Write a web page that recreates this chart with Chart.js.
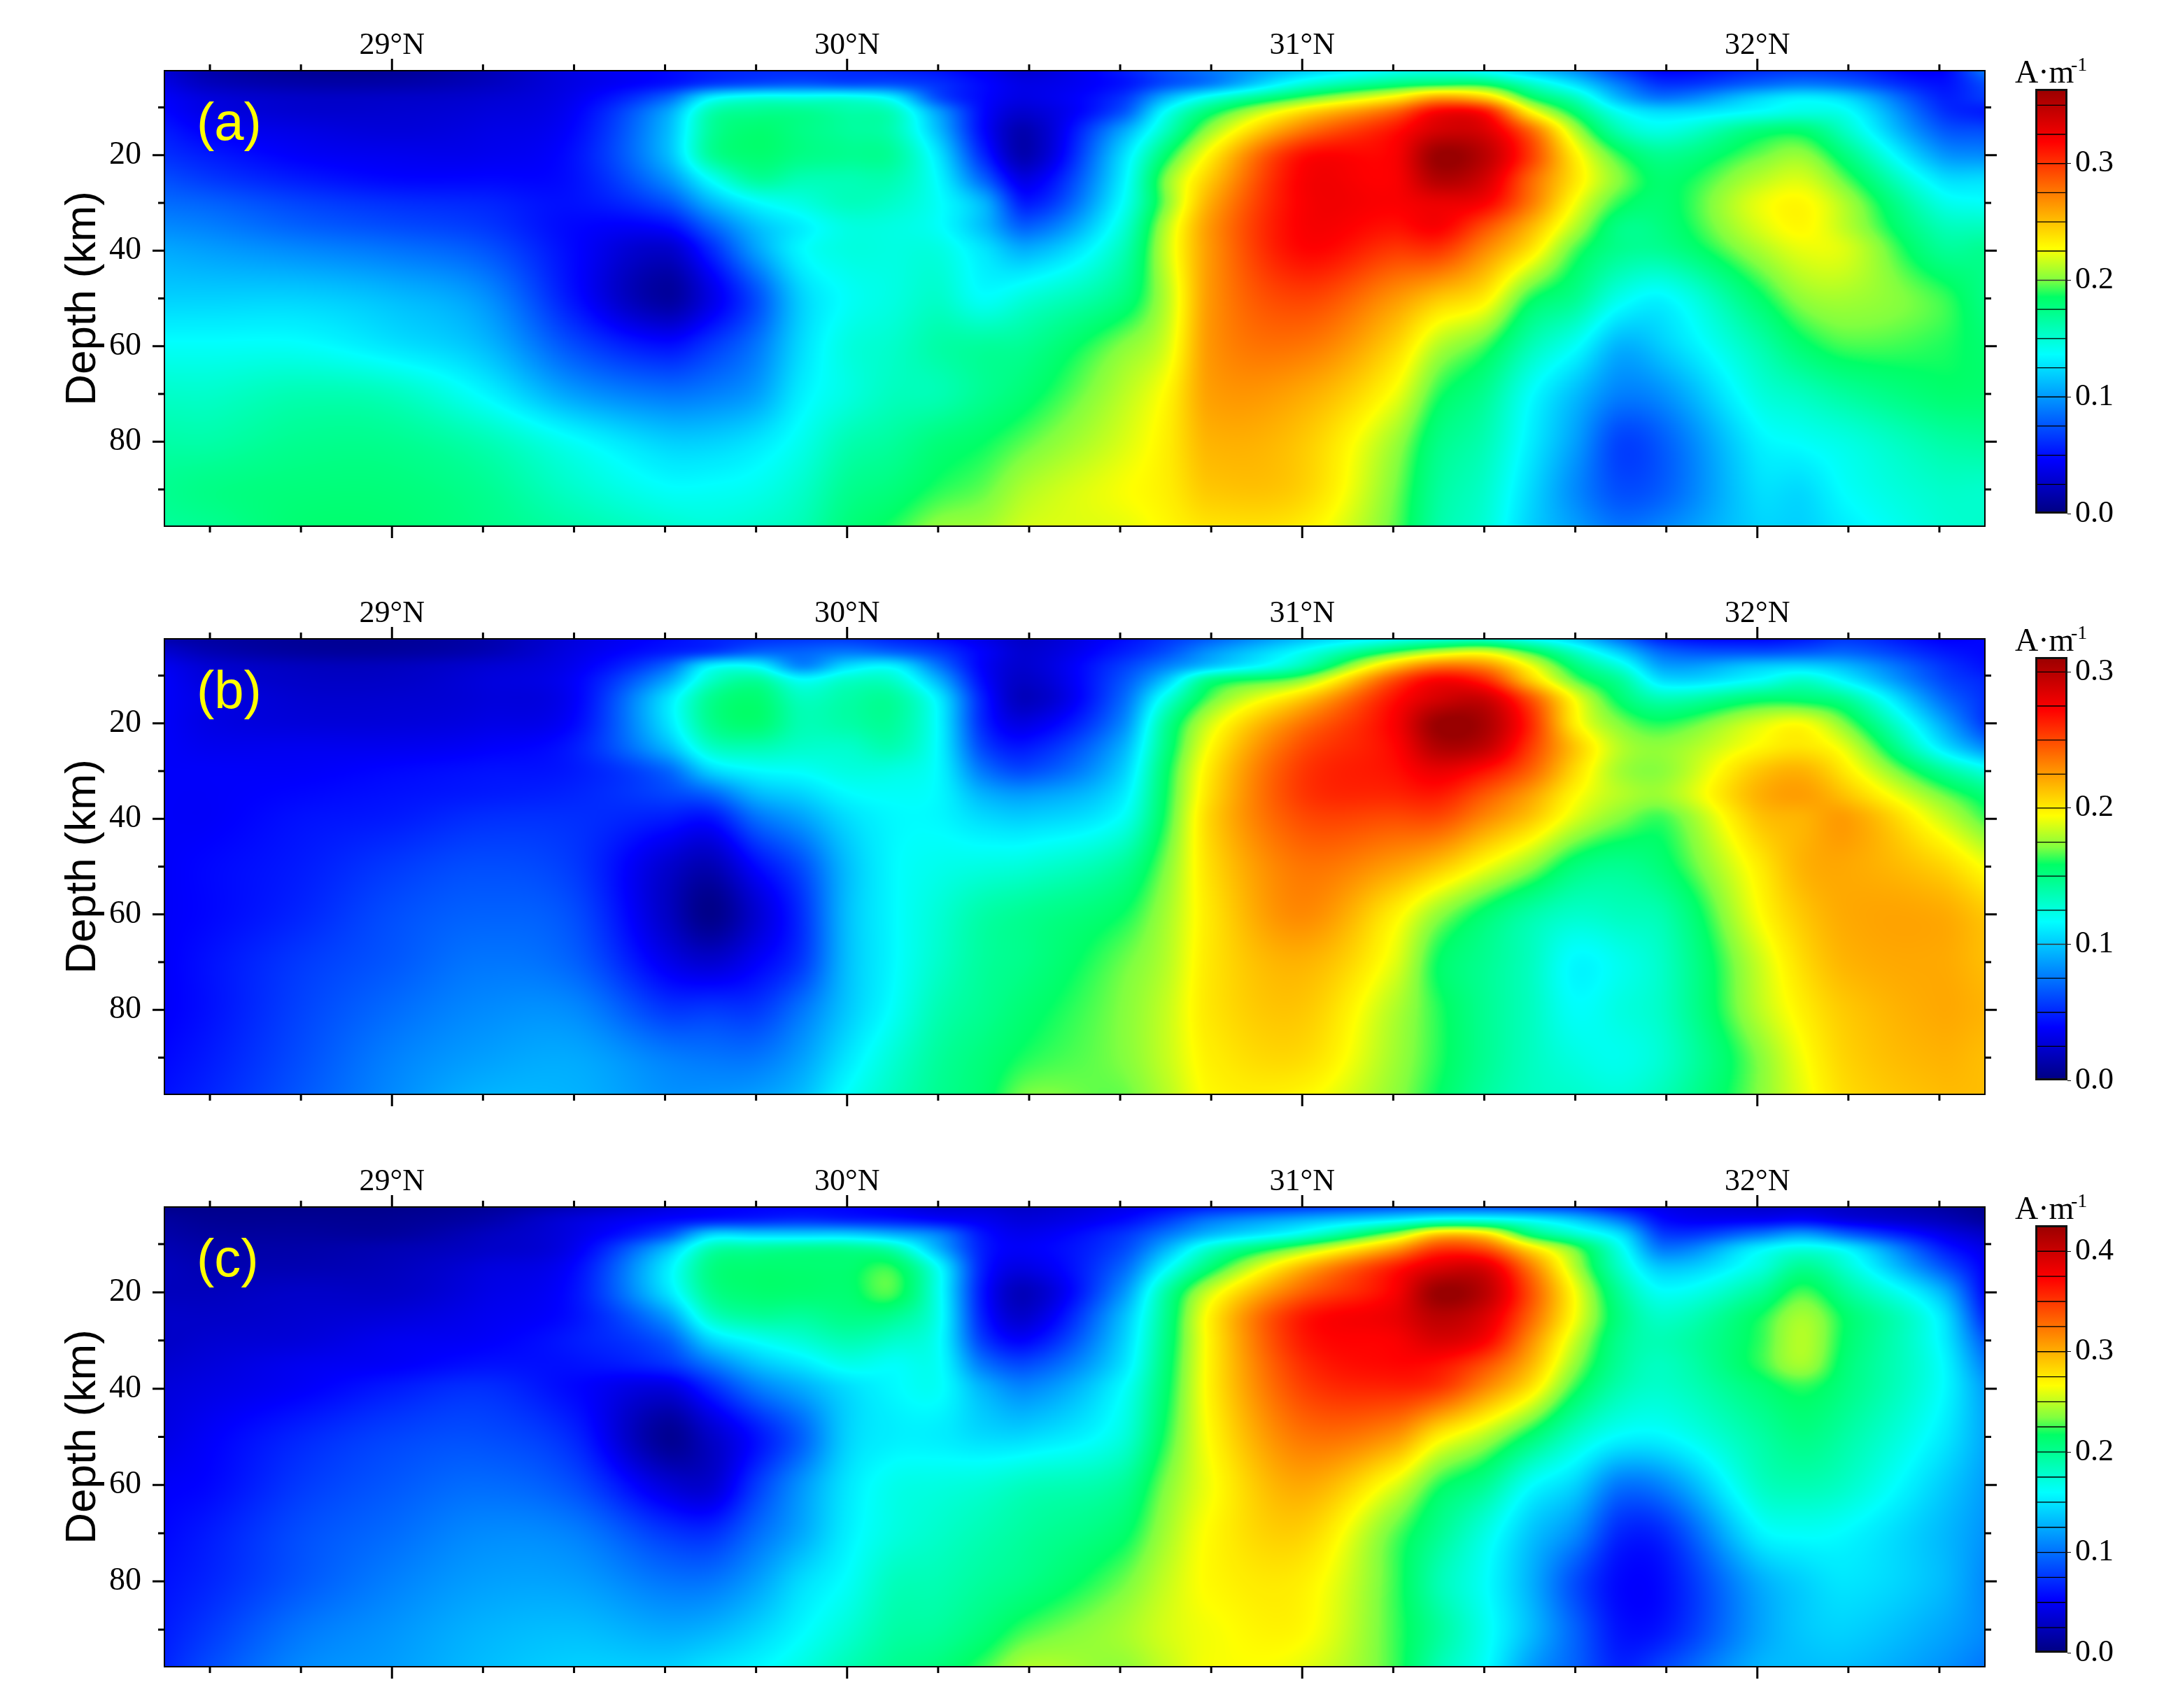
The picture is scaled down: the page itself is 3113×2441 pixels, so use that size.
<!DOCTYPE html>
<html>
<head>
<meta charset="utf-8">
<title>Depth sections</title>
<script src="https://cdn.jsdelivr.net/npm/chart.js@4"></script>
<style>
  html, body { margin: 0; padding: 0; background: #fff; }
  body { position: relative; width: 3113px; height: 2441px; overflow: hidden; }
  canvas { position: absolute; }
</style>
</head>
<body>
<script>
// grid nodes of the sections
var lats = [28.5, 28.6, 28.8, 29.0, 29.2, 29.4, 29.6, 29.7, 29.8, 29.9, 30.0, 30.1, 30.2, 30.3, 30.4, 30.6, 30.7, 30.8, 31.0, 31.2, 31.3, 31.4, 31.5, 31.6, 31.7, 31.8, 32.0, 32.1, 32.2, 32.4, 32.5];
var depths = [2, 5, 8, 11, 15, 20, 25, 30, 35, 40, 50, 60, 70, 80, 90, 98];

// values, in percent of each panel's colour bar top
var panelA = [
    [8, 4, 2, 2, 5, 10, 13, 15, 16, 16, 16, 15, 14, 11, 8, 15, 20, 24, 31, 37, 38, 35, 30, 25, 17, 12, 16, 17, 16, 12, 25],
    [10, 6, 4, 4, 6, 10, 14, 18, 20, 21, 20, 20, 17, 13, 10, 14, 20, 25, 40, 48, 50, 50, 42, 34, 24, 17, 22, 24, 22, 14, 20],
    [12, 9, 7, 7, 8, 11, 22, 36, 40, 40, 40, 36, 20, 13, 10, 17, 30, 40, 53, 64, 72, 68, 52, 43, 30, 24, 33, 36, 33, 16, 18],
    [13, 10, 8, 8, 9, 12, 28, 44, 47, 47, 45, 43, 28, 13, 8, 20, 38, 50, 66, 78, 88, 86, 64, 50, 38, 34, 38, 40, 38, 18, 15],
    [15, 12, 10, 9, 10, 13, 30, 46, 50, 48, 46, 44, 31, 13, 5, 28, 43, 57, 76, 86, 93, 92, 78, 58, 44, 40, 49, 50, 42, 22, 20],
    [17, 15, 12, 11, 11, 14, 30, 46, 50, 48, 47, 46, 35, 16, 5, 33, 50, 64, 86, 88, 100, 96, 82, 64, 52, 47, 54, 56, 48, 28, 26],
    [20, 18, 15, 13, 13, 14, 26, 38, 46, 44, 44, 44, 37, 22, 10, 35, 55, 68, 88, 88, 97, 93, 78, 65, 55, 50, 58, 60, 53, 35, 34],
    [23, 22, 19, 17, 16, 14, 20, 30, 37, 40, 43, 42, 38, 30, 15, 37, 55, 71, 88, 88, 90, 88, 76, 62, 52, 50, 61, 63, 57, 40, 38],
    [26, 25, 22, 20, 18, 13, 13, 22, 31, 36, 40, 40, 38, 31, 22, 40, 58, 73, 88, 86, 88, 80, 70, 58, 48, 49, 60, 63, 58, 44, 43],
    [29, 28, 26, 24, 21, 13, 7, 16, 28, 37, 40, 40, 40, 35, 30, 43, 59, 73, 87, 82, 82, 74, 65, 53, 47, 47, 57, 61, 60, 47, 47],
    [33, 33, 33, 31, 27, 14, 3, 10, 20, 33, 38, 40, 42, 38, 41, 48, 58, 73, 81, 73, 68, 64, 52, 47, 39, 37, 50, 56, 57, 53, 48],
    [38, 38, 38, 35, 31, 20, 14, 18, 24, 34, 40, 42, 45, 46, 47, 55, 60, 73, 76, 67, 58, 53, 44, 38, 30, 33, 44, 50, 53, 52, 50],
    [42, 42, 44, 43, 37, 28, 24, 25, 28, 36, 40, 43, 44, 47, 50, 58, 63, 72, 71, 62, 52, 47, 38, 31, 25, 27, 40, 43, 46, 50, 50],
    [45, 45, 47, 47, 44, 38, 33, 33, 35, 39, 44, 46, 49, 51, 54, 60, 64, 70, 68, 57, 48, 44, 36, 28, 19, 22, 36, 38, 40, 45, 46],
    [47, 48, 49, 49, 47, 42, 38, 38, 39, 42, 47, 49, 52, 54, 58, 62, 64, 68, 67, 55, 46, 42, 34, 26, 20, 22, 34, 34, 38, 42, 42],
    [46, 47, 50, 50, 48, 45, 42, 41, 42, 44, 49, 52, 56, 57, 60, 61, 63, 65, 64, 54, 45, 41, 33, 28, 24, 26, 33, 33, 36, 41, 42]
];
var panelB = [
    [4, 3, 2, 2, 4, 9, 13, 15, 16, 17, 17, 15, 13, 10, 7, 13, 17, 21, 30, 36, 38, 39, 36, 31, 22, 14, 12, 14, 17, 12, 13],
    [8, 5, 3, 3, 5, 10, 15, 18, 22, 22, 24, 22, 18, 12, 8, 15, 20, 27, 38, 52, 58, 60, 52, 42, 32, 22, 20, 21, 22, 15, 13],
    [11, 8, 6, 6, 8, 11, 22, 36, 37, 26, 34, 36, 24, 12, 8, 18, 25, 32, 44, 68, 76, 74, 62, 49, 40, 28, 32, 33, 30, 18, 14],
    [12, 9, 7, 7, 9, 12, 28, 42, 46, 38, 42, 42, 30, 13, 7, 20, 32, 48, 56, 80, 88, 84, 68, 54, 46, 34, 38, 42, 36, 20, 16],
    [12, 10, 8, 8, 9, 12, 34, 47, 50, 43, 45, 46, 36, 15, 6, 22, 40, 54, 68, 86, 93, 94, 80, 62, 50, 44, 50, 50, 46, 24, 17],
    [12, 10, 9, 9, 10, 13, 34, 47, 50, 44, 45, 46, 37, 16, 10, 25, 46, 60, 76, 88, 100, 98, 84, 64, 55, 52, 60, 62, 54, 30, 18],
    [12, 11, 11, 11, 12, 15, 30, 42, 44, 42, 42, 44, 37, 19, 15, 29, 48, 63, 80, 87, 97, 95, 82, 68, 58, 56, 63, 65, 60, 36, 26],
    [12, 12, 12, 13, 14, 15, 22, 33, 37, 38, 40, 40, 37, 24, 20, 32, 50, 65, 82, 86, 90, 86, 78, 66, 57, 56, 68, 70, 64, 47, 40],
    [12, 12, 13, 14, 15, 16, 19, 22, 30, 33, 37, 38, 37, 30, 28, 35, 51, 66, 82, 84, 85, 79, 72, 63, 58, 57, 70, 72, 68, 55, 49],
    [12, 12, 14, 15, 17, 17, 15, 14, 23, 28, 34, 37, 37, 34, 33, 38, 52, 67, 80, 80, 80, 74, 68, 60, 55, 53, 68, 70, 72, 60, 53],
    [12, 13, 15, 18, 20, 18, 8, 5, 13, 20, 31, 37, 39, 40, 41, 46, 55, 66, 76, 72, 68, 62, 56, 49, 47, 50, 64, 70, 71, 67, 62],
    [12, 13, 16, 20, 22, 20, 7, 1, 8, 17, 31, 37, 41, 45, 47, 51, 57, 65, 74, 64, 56, 50, 45, 42, 43, 45, 62, 68, 71, 71, 68],
    [12, 14, 18, 21, 24, 22, 11, 8, 12, 18, 31, 37, 42, 46, 48, 54, 58, 65, 70, 61, 51, 47, 43, 37, 39, 43, 59, 66, 70, 71, 69],
    [12, 14, 19, 23, 26, 26, 18, 18, 18, 24, 32, 38, 44, 47, 50, 55, 59, 65, 68, 58, 52, 47, 43, 38, 40, 43, 58, 64, 68, 71, 70],
    [13, 15, 20, 25, 28, 29, 25, 24, 24, 28, 35, 41, 46, 49, 52, 55, 59, 64, 66, 57, 52, 47, 43, 40, 39, 42, 55, 62, 67, 70, 69],
    [14, 16, 21, 26, 30, 30, 27, 27, 28, 31, 38, 43, 47, 50, 55, 54, 58, 63, 63, 56, 51, 46, 43, 42, 41, 44, 55, 61, 66, 69, 69]
];
var panelC = [
    [1, 1, 1, 1, 2, 5, 9, 11, 12, 12, 12, 10, 8, 8, 7, 10, 12, 14, 16, 18, 18, 18, 17, 16, 12, 10, 7, 7, 6, 3, 1],
    [3, 2, 2, 2, 4, 9, 13, 15, 16, 17, 16, 15, 13, 11, 9, 13, 18, 24, 30, 36, 40, 40, 37, 32, 24, 13, 12, 13, 10, 6, 3],
    [4, 3, 3, 3, 6, 10, 20, 33, 33, 33, 33, 30, 25, 14, 11, 17, 24, 31, 40, 56, 68, 66, 50, 42, 34, 18, 24, 28, 22, 11, 7],
    [5, 4, 4, 5, 7, 11, 30, 44, 46, 47, 47, 44, 30, 15, 12, 19, 30, 42, 56, 72, 82, 80, 66, 54, 39, 24, 36, 40, 36, 16, 10],
    [6, 5, 5, 6, 9, 13, 35, 48, 50, 50, 50, 52, 38, 15, 10, 22, 37, 50, 70, 85, 92, 92, 76, 58, 42, 32, 40, 47, 41, 22, 12],
    [6, 6, 7, 7, 10, 14, 34, 47, 50, 50, 50, 53, 39, 14, 6, 26, 45, 60, 78, 88, 100, 96, 80, 62, 46, 38, 46, 53, 46, 31, 13],
    [7, 7, 8, 9, 11, 14, 27, 42, 46, 46, 48, 47, 39, 15, 8, 30, 47, 64, 85, 90, 96, 92, 78, 62, 48, 42, 51, 57, 50, 36, 16],
    [7, 8, 9, 11, 12, 15, 21, 33, 38, 41, 44, 42, 38, 18, 13, 32, 48, 64, 85, 88, 92, 88, 74, 59, 47, 44, 52, 58, 50, 37, 21],
    [8, 9, 11, 12, 14, 14, 17, 24, 31, 35, 39, 38, 38, 24, 20, 34, 49, 64, 83, 87, 86, 80, 70, 56, 46, 43, 52, 57, 49, 38, 25],
    [9, 10, 12, 15, 17, 13, 9, 16, 24, 29, 34, 37, 38, 30, 26, 37, 50, 64, 81, 84, 82, 74, 65, 52, 44, 42, 49, 52, 48, 38, 28],
    [10, 12, 16, 19, 20, 16, 2, 7, 14, 22, 33, 36, 36, 34, 34, 40, 52, 63, 76, 73, 64, 58, 50, 42, 37, 37, 45, 48, 45, 36, 29],
    [12, 13, 18, 21, 23, 20, 9, 8, 18, 27, 35, 39, 40, 41, 43, 46, 55, 62, 71, 61, 52, 47, 38, 33, 24, 26, 42, 44, 42, 33, 28],
    [13, 15, 20, 23, 26, 25, 18, 17, 23, 29, 36, 40, 42, 44, 46, 50, 57, 63, 67, 54, 47, 40, 32, 26, 16, 17, 36, 38, 37, 31, 27],
    [14, 16, 21, 25, 28, 28, 24, 24, 28, 34, 38, 43, 44, 46, 48, 54, 59, 63, 64, 53, 44, 38, 30, 20, 13, 14, 29, 33, 35, 31, 26],
    [15, 18, 24, 27, 30, 31, 29, 30, 33, 37, 41, 45, 46, 49, 53, 57, 60, 62, 63, 53, 46, 39, 31, 22, 14, 15, 28, 32, 33, 29, 26],
    [16, 20, 26, 28, 31, 33, 33, 35, 37, 40, 44, 47, 49, 53, 58, 56, 59, 62, 61, 53, 44, 38, 28, 22, 16, 20, 30, 31, 31, 27, 24]
];

var panelLabels = ["(a)", "(b)", "(c)"];
var scaleMax = [0.364, 0.311, 0.426];
var latTicks = [28.6, 28.8, 29.0, 29.2, 29.4, 29.6, 29.8, 30.0, 30.2, 30.4, 30.6, 30.8, 31.0, 31.2, 31.4, 31.6, 31.8, 32.0, 32.2, 32.4];
var depthTicks = [10, 20, 30, 40, 50, 60, 70, 80, 90];
var barStep = 0.025;
var colorStops = [0, 0.125, 0.25, 0.375, 0.47, 0.51, 0.55, 0.625, 0.75, 0.875, 1];
var colorValues = ["#000080", "#0000ff", "#0080ff", "#00ffff", "#00ff90", "#00ff66", "#80ff40", "#ffff00", "#ff8000", "#ff0000", "#990000"];

// page layout of the three panels (px)
var plotLeft = 235, plotRight = 2837;
var plotTops = [101, 913, 1725];
var plotBottoms = [752, 1564, 2382];
var barLeft = 2909, barRight = 2955;
var barTops = [127, 938.5, 1750.5];
var barBottoms = [734, 1544, 2362];

var SERIF = "'Liberation Serif', serif";
var SANS = "'Liberation Sans', sans-serif";

function hexToRgb(h) {
    return [parseInt(h.substr(1, 2), 16), parseInt(h.substr(3, 2), 16), parseInt(h.substr(5, 2), 16)];
}

// lookup table for the colour scale
var lut = [];
(function () {
    for (var i = 0; i <= 1023; i++) {
        var f = i / 1023, k = 0;
        while (k < colorStops.length - 2 && f > colorStops[k + 1]) k++;
        var t = (f - colorStops[k]) / (colorStops[k + 1] - colorStops[k]);
        var a = hexToRgb(colorValues[k]), b = hexToRgb(colorValues[k + 1]);
        lut.push([a[0] + (b[0] - a[0]) * t, a[1] + (b[1] - a[1]) * t, a[2] + (b[2] - a[2]) * t]);
    }
})();

// smooth shading between the read nodes (cubic hermite on the uneven grid)
function hermite(nodes, vals, i, t) {
    var n = nodes.length;
    var h = nodes[i + 1] - nodes[i];
    var m0 = i > 0 ? (vals[i + 1] - vals[i - 1]) / (nodes[i + 1] - nodes[i - 1]) : (vals[1] - vals[0]) / h;
    var m1 = i < n - 2 ? (vals[i + 2] - vals[i]) / (nodes[i + 2] - nodes[i]) : (vals[n - 1] - vals[n - 2]) / h;
    var t2 = t * t, t3 = t2 * t;
    return (2 * t3 - 3 * t2 + 1) * vals[i] + (t3 - 2 * t2 + t) * h * m0 + (-2 * t3 + 3 * t2) * vals[i + 1] + (t3 - t2) * h * m1;
}

function locate(nodes, v) {
    var i = 0;
    while (i < nodes.length - 2 && v > nodes[i + 1]) i++;
    return [i, (v - nodes[i]) / (nodes[i + 1] - nodes[i])];
}

function fieldPlugin(rows, label) {
    return {
        id: "field",
        beforeDatasetsDraw: function (chart) {
            var area = chart.chartArea, ctx = chart.ctx;
            var x = chart.scales.x, y = chart.scales.y;
            var x0 = Math.round(area.left), y0 = Math.round(area.top);
            var w = Math.round(area.right) - x0, h = Math.round(area.bottom) - y0;
            var img = ctx.createImageData(w, h);
            var xLoc = [];
            for (var px = 0; px < w; px++) xLoc.push(locate(lats, x.getValueForPixel(x0 + px + 0.5)));
            var column = new Array(lats.length);
            var colVals = new Array(depths.length);
            var o = 0;
            for (var py = 0; py < h; py++) {
                var yl = locate(depths, y.getValueForPixel(y0 + py + 0.5));
                for (var c = 0; c < lats.length; c++) {
                    for (var r = 0; r < depths.length; r++) colVals[r] = rows[r][c];
                    column[c] = hermite(depths, colVals, yl[0], yl[1]);
                }
                for (px = 0; px < w; px++) {
                    var v = hermite(lats, column, xLoc[px][0], xLoc[px][1]);
                    var idx = Math.round(Math.max(0, Math.min(100, v)) / 100 * 1023);
                    var col = lut[idx];
                    img.data[o++] = col[0];
                    img.data[o++] = col[1];
                    img.data[o++] = col[2];
                    img.data[o++] = 255;
                }
            }
            ctx.putImageData(img, x0, y0);
        },
        afterDatasetsDraw: function (chart) {
            var area = chart.chartArea, ctx = chart.ctx;
            var x = chart.scales.x, y = chart.scales.y;
            ctx.save();
            ctx.strokeStyle = "#000";
            ctx.lineWidth = 3;
            ctx.beginPath();
            latTicks.forEach(function (t) {
                var p = x.getPixelForValue(t);
                var len = Number.isInteger(t) ? 17 : 9;
                ctx.moveTo(p, area.top);
                ctx.lineTo(p, area.top - len);
                ctx.moveTo(p, area.bottom);
                ctx.lineTo(p, area.bottom + len);
            });
            depthTicks.forEach(function (t) {
                var p = y.getPixelForValue(t);
                var len = t % 20 === 0 ? 17 : 9;
                ctx.moveTo(area.left, p);
                ctx.lineTo(area.left - len, p);
                ctx.moveTo(area.right, p);
                ctx.lineTo(area.right + len, p);
            });
            ctx.stroke();
            ctx.lineWidth = 2;
            ctx.strokeRect(area.left, area.top, area.right - area.left, area.bottom - area.top);
            ctx.fillStyle = "#ffff00";
            ctx.font = "76px " + SANS;
            ctx.textBaseline = "middle";
            ctx.fillText(label, area.left + 46, area.top + 78);
            ctx.restore();
        }
    };
}

function addCanvas(left, top, width, height) {
    var c = document.createElement("canvas");
    c.width = width;
    c.height = height;
    c.style.left = left + "px";
    c.style.top = top + "px";
    c.style.width = width + "px";
    c.style.height = height + "px";
    document.body.appendChild(c);
    return c;
}

function drawPanel(i, rows) {
    var top = plotTops[i], bottom = plotBottoms[i];
    var canvas = addCanvas(0, top - 100, plotRight + 30, bottom - top + 140);
    var nodes = [];
    rows.forEach(function (row, r) {
        row.forEach(function (v, c) {
            nodes.push({ x: lats[c], y: depths[r], v: v / 100 * scaleMax[i] });
        });
    });
    new Chart(canvas.getContext("2d"), {
        type: "scatter",
        data: { datasets: [{ data: nodes, pointRadius: 0, showLine: false }] },
        options: {
            responsive: false,
            animation: false,
            events: [],
            layout: { autoPadding: false, padding: { left: 0, right: 30, top: 40, bottom: 40 } },
            plugins: { legend: { display: false }, tooltip: { enabled: false } },
            scales: {
                x: {
                    type: "linear",
                    position: "top",
                    min: 28.5,
                    max: 32.5,
                    grid: { display: false },
                    border: { display: false },
                    afterBuildTicks: function (s) {
                        s.ticks = latTicks.map(function (t) { return { value: t }; });
                    },
                    afterFit: function (s) { s.height = 60; },
                    ticks: {
                        autoSkip: false,
                        maxRotation: 0,
                        padding: 1,
                        color: "#000",
                        font: { family: SERIF, size: 44 },
                        callback: function (v) { return Number.isInteger(v) ? v + "°N" : ""; }
                    }
                },
                y: {
                    type: "linear",
                    reverse: true,
                    min: 2.3,
                    max: 97.7,
                    grid: { display: false },
                    border: { display: false },
                    afterBuildTicks: function (s) {
                        s.ticks = depthTicks.map(function (t) { return { value: t }; });
                    },
                    afterFit: function (s) {
                        s.width = plotLeft;
                        // the last label's half height would otherwise lift the plot bottom
                        s.paddingTop = 0;
                        s.paddingBottom = 0;
                    },
                    title: {
                        display: true,
                        text: "Depth (km)",
                        color: "#000",
                        font: { family: SANS, size: 62 },
                        padding: { top: 82, bottom: 0 }
                    },
                    ticks: {
                        autoSkip: false,
                        padding: 25,
                        color: "#000",
                        font: { family: SERIF, size: 46 },
                        callback: function (v) { return v % 20 === 0 ? String(v) : ""; }
                    }
                }
            }
        },
        plugins: [fieldPlugin(rows, panelLabels[i])]
    });
}

function drawColorBar(i) {
    var top = barTops[i], bottom = barBottoms[i], max = scaleMax[i];
    var canvas = addCanvas(barLeft - 40, top - 60, 3113 - barLeft + 40, bottom - top + 100);
    var sets = [];
    var gradientFill = function (c) {
        var chart = c.chart;
        if (!chart.chartArea) return "#000";
        var g = chart.ctx.createLinearGradient(0, chart.chartArea.bottom, 0, chart.chartArea.top);
        colorStops.forEach(function (s, k) { g.addColorStop(s, colorValues[k]); });
        return g;
    };
    for (var lo = 0; lo < max - 0.0001; lo += barStep) {
        sets.push({
            data: [[lo, Math.min(lo + barStep, max)]],
            backgroundColor: gradientFill,
            borderColor: "#000",
            borderWidth: 1,
            borderSkipped: false,
            barPercentage: 1,
            categoryPercentage: 1,
            grouped: false
        });
    }
    new Chart(canvas.getContext("2d"), {
        type: "bar",
        data: { labels: ["A·m-1"], datasets: sets },
        options: {
            responsive: false,
            animation: false,
            events: [],
            layout: { autoPadding: false, padding: { left: 40, right: 0, top: 60, bottom: 40 } },
            plugins: { legend: { display: false }, tooltip: { enabled: false } },
            scales: {
                x: { display: false },
                y: {
                    position: "right",
                    min: 0,
                    max: max,
                    afterFit: function (s) { s.width = 3113 - barRight; },
                    grid: { drawOnChartArea: false, tickLength: 5, tickColor: "#000", tickWidth: 1 },
                    border: { display: false },
                    ticks: {
                        stepSize: 0.1,
                        includeBounds: false,
                        padding: 6,
                        color: "#000",
                        font: { family: SERIF, size: 44 },
                        callback: function (v) { return v.toFixed(1); }
                    }
                }
            }
        },
        plugins: [{
            id: "barFrame",
            afterDatasetsDraw: function (chart) {
                var a = chart.chartArea, ctx = chart.ctx;
                ctx.save();
                ctx.strokeStyle = "#111";
                ctx.lineWidth = 3;
                ctx.strokeRect(a.left + 1.5, a.top + 1.5, a.right - a.left - 3, a.bottom - a.top - 3);
                // unit above the bar
                ctx.fillStyle = "#000";
                ctx.textBaseline = "alphabetic";
                ctx.font = "46px " + SERIF;
                ctx.fillText("A·m", 2880 - (barLeft - 40), a.top - 9);
                ctx.font = "28px " + SERIF;
                ctx.fillText("-1", 2960 - (barLeft - 40), a.top - 26);
                ctx.restore();
            }
        }]
    });
}

document.addEventListener("DOMContentLoaded", function () {
    [panelA, panelB, panelC].forEach(function (rows, i) {
        drawPanel(i, rows);
        drawColorBar(i);
    });
});
</script>
</body>
</html>
